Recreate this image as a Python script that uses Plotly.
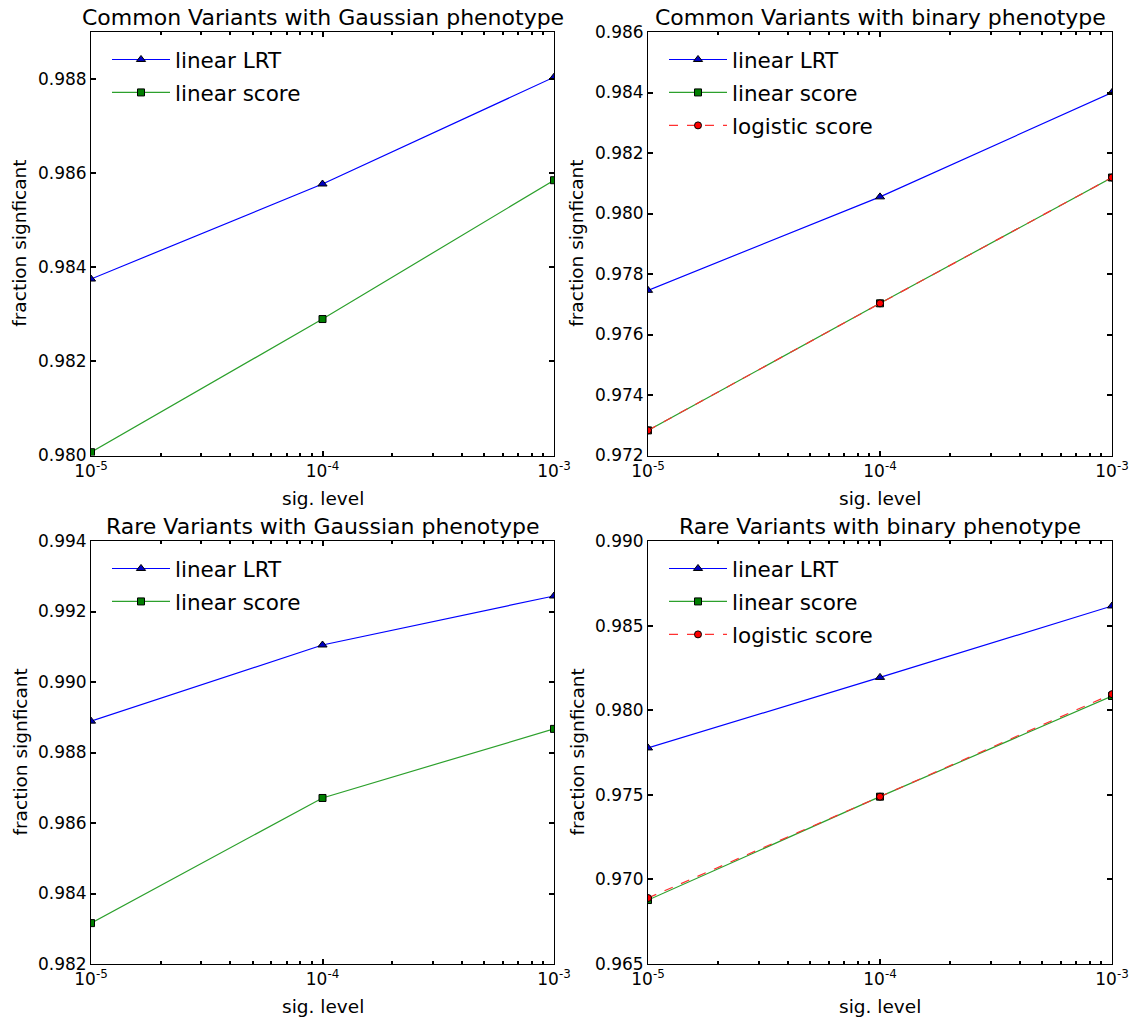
import plotly.graph_objects as go

sig_levels = [1e-5, 1e-4, 1e-3]
x_tick_text = ["10<sup>-5</sup>", "10<sup>-4</sup>", "10<sup>-3</sup>"]

titles = [
    "Common Variants with Gaussian phenotype",
    "Common Variants with binary phenotype",
    "Rare Variants with Gaussian phenotype",
    "Rare Variants with binary phenotype",
]

# Common / Gaussian
cg_linear_lrt = [0.98375, 0.98577, 0.98804]
cg_linear_score = [0.98007, 0.98290, 0.98585]
# Common / binary
cb_linear_lrt = [0.97746, 0.98055, 0.98400]
cb_linear_score = [0.97283, 0.97703, 0.98119]
cb_logistic_score = [0.97283, 0.97703, 0.98119]
# Rare / Gaussian
rg_linear_lrt = [0.98889, 0.99105, 0.99244]
rg_linear_score = [0.98316, 0.98671, 0.98867]
# Rare / binary
rb_linear_lrt = [0.97777, 0.98194, 0.98616]
rb_linear_score = [0.96878, 0.97489, 0.98084]
rb_logistic_score = [0.96890, 0.97489, 0.98095]

y_ranges = [(0.980, 0.989), (0.972, 0.986), (0.982, 0.994), (0.965, 0.990)]
y_dticks = [0.002, 0.002, 0.002, 0.005]

panels = [
    {"lrt": cg_linear_lrt, "score": cg_linear_score, "logit": None},
    {"lrt": cb_linear_lrt, "score": cb_linear_score, "logit": cb_logistic_score},
    {"lrt": rg_linear_lrt, "score": rg_linear_score, "logit": None},
    {"lrt": rb_linear_lrt, "score": rb_linear_score, "logit": rb_logistic_score},
]

W, H = 1133, 1017
FONT = "DejaVu Sans"
x_doms = [(91 / W, 554 / W), (648 / W, 1112 / W)]
y_doms = [(1 - 455.5 / H, 1 - 32 / H), (1 - 964 / H, 1 - 541 / H)]

minor_vals = []
for dec in [1e-5, 1e-4]:
    for k in range(2, 10):
        minor_vals.append(dec * k)

fig = go.Figure()
layout = dict(
    width=W, height=H,
    margin=dict(l=0, r=0, t=0, b=0),
    paper_bgcolor="white", plot_bgcolor="white",
    font=dict(family=FONT, color="black"),
    showlegend=True,
    annotations=[],
)

for i, p in enumerate(panels):
    r, c = divmod(i, 2)
    n = "" if i == 0 else str(i + 1)
    leg = "legend" if i == 0 else "legend" + str(i + 1)
    xa, ya = "x" + n, "y" + n
    fig.add_trace(go.Scatter(
        x=sig_levels, y=p["lrt"], name="linear LRT", mode="lines+markers",
        xaxis=xa, yaxis=ya, legend=leg, legendgroup="a%d" % i,
        line=dict(color="#0000ff", width=1.2),
        marker=dict(symbol="triangle-up", size=8, color="#0000bf",
                    line=dict(color="black", width=1)),
    ))
    fig.add_trace(go.Scatter(
        x=sig_levels, y=p["score"], name="linear score", mode="lines+markers",
        xaxis=xa, yaxis=ya, legend=leg, legendgroup="b%d" % i,
        line=dict(color="#2ca02c", width=1.2),
        marker=dict(symbol="square", size=7, color="#007f00",
                    line=dict(color="black", width=1)),
    ))
    if p["logit"] is not None:
        fig.add_trace(go.Scatter(
            x=sig_levels, y=p["logit"], name="logistic score", mode="lines+markers",
            xaxis=xa, yaxis=ya, legend=leg, legendgroup="c%d" % i,
            line=dict(color="#ff3030", width=1.2, dash="dash"),
            marker=dict(symbol="circle", size=7, color="#ff0000",
                        line=dict(color="black", width=1)),
        ))

    xd, yd = x_doms[c], y_doms[r]
    axis_common = dict(showline=True, linecolor="black", linewidth=1,
                       mirror="ticks", ticks="inside", tickcolor="black",
                       showgrid=False, zeroline=False, automargin=False,
                       tickfont=dict(family=FONT, size=17, color="black"))
    layout["xaxis" + n] = dict(
        axis_common, domain=list(xd), anchor=ya, type="log",
        range=[-5, -3], tickmode="array", tickvals=sig_levels,
        ticktext=x_tick_text, ticklen=5, tickwidth=1.5,
        minor=dict(tickvals=minor_vals, ticks="inside", ticklen=3,
                   tickcolor="black", tickwidth=1.5),
    )
    yr = y_ranges[i]
    layout["yaxis" + n] = dict(
        axis_common, domain=list(yd), anchor=xa,
        range=list(yr), tick0=yr[0], dtick=y_dticks[i],
        tickformat=".3f", ticklen=5, tickwidth=1.5,
    )
    layout[leg] = dict(
        x=xd[0] + 16 / W, y=yd[1] - 7 / H, xanchor="left", yanchor="top",
        bgcolor="rgba(0,0,0,0)", borderwidth=0,
        font=dict(family=FONT, size=21.5, color="black"),
        tracegroupgap=2, itemwidth=58,
    )
    xc = (xd[0] + xd[1]) / 2
    layout["annotations"].append(dict(
        text=titles[i], x=xc, y=yd[1], xref="paper", yref="paper",
        xanchor="center", yanchor="bottom", yshift=0, showarrow=False,
        font=dict(family=FONT, size=22, color="black"),
    ))
    layout["annotations"].append(dict(
        text="sig. level", x=xc, y=yd[0], xref="paper", yref="paper",
        xanchor="center", yanchor="top", yshift=-30, showarrow=False,
        font=dict(family=FONT, size=18.5, color="black"),
    ))
    layout["annotations"].append(dict(
        text="fraction signficant", x=xd[0], y=(yd[0] + yd[1]) / 2,
        xref="paper", yref="paper", xanchor="center", yanchor="middle",
        xshift=-71, textangle=-90, showarrow=False,
        font=dict(family=FONT, size=18.5, color="black"),
    ))

fig.update_layout(**layout)
fig.write_html("out.html")
